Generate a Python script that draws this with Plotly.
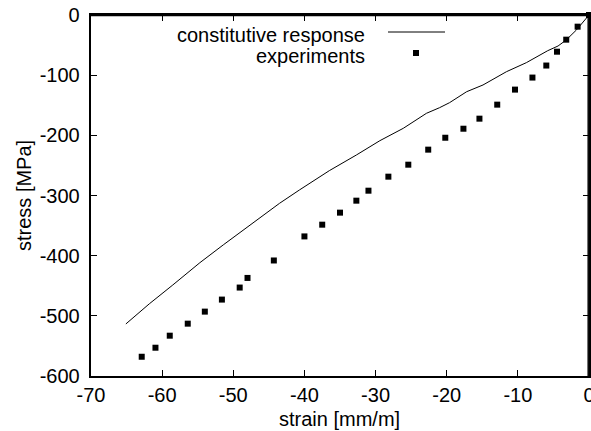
import plotly.graph_objects as go

# constitutive response (model curve)
model_strain = [-65.1, -61.8, -58.5, -54.7, -51.4, -48.4, -45.3, -43.5, -40.7, -36.5,
                -32.7, -29.4, -26.1, -22.85, -21.0, -19.6, -17.2, -14.9, -11.6, -8.8,
                -5.8, -4.35, -3.2, -1.77, 0.0]
model_stress = [-513.5, -480, -448.7, -411.7, -382, -356, -329.6, -313, -290.8, -258.7,
                -232.7, -208.9, -188.3, -163.4, -154, -145.7, -127.5, -116.3, -94.2, -79.2,
                -59.3, -51.5, -41.5, -24.9, 0.0]

# experiments
exp_strain = [-62.87, -60.94, -58.93, -56.4, -54.0, -51.6, -49.1, -48.0, -44.3, -40.0,
              -37.5, -35.0, -32.7, -31.0, -28.2, -25.4, -22.6, -20.2, -17.65, -15.4,
              -12.9, -10.4, -7.95, -6.0, -4.5, -3.2, -1.6, 0.0]
exp_stress = [-568, -553, -533, -513, -493, -473, -453, -437, -408, -368,
              -348.5, -328.5, -308.6, -292, -268.7, -248.8, -223.8, -204, -189, -172.3,
              -149, -124, -104, -84, -61, -41, -19.4, 0.0]

x_ticks = [-70, -60, -50, -40, -30, -20, -10, 0]
y_ticks = [-600, -500, -400, -300, -200, -100, 0]

FONT = "Liberation Sans, Arial, Helvetica, sans-serif"
FS = 20

fig = go.Figure()
fig.add_trace(go.Scatter(x=model_strain, y=model_stress, mode="lines",
                         line=dict(color="black", width=1), name="constitutive response",
                         showlegend=False))
fig.add_trace(go.Scatter(x=exp_strain, y=exp_stress, mode="markers", xaxis="x2", yaxis="y2",
                         marker=dict(symbol="square", size=6, color="black"),
                         name="experiments", showlegend=False, cliponaxis=False))

L, R, T, B = 91, 2, 15, 55
W, H = 591, 431
pw, ph = W - L - R, H - T - B

def px(x):
    return (x - L) / pw

def py(y):
    return (H - B - y) / ph

axis_common = dict(showline=True, linecolor="black", linewidth=1.5,
                   ticks="inside", ticklen=6, tickwidth=1, tickcolor="black",
                   showgrid=False, zeroline=False, automargin=False,
                   tickfont=dict(family=FONT, size=FS, color="black"))
mirror_common = dict(showline=True, linecolor="black", linewidth=2,
                     ticks="inside", ticklen=6, tickwidth=1, tickcolor="black",
                     showgrid=False, zeroline=False, automargin=False,
                     showticklabels=False)

fig.update_layout(
    width=W, height=H,
    margin=dict(l=L, r=R, t=T, b=B),
    plot_bgcolor="white", paper_bgcolor="white",
    xaxis=dict(range=[-70, 0], tickvals=x_ticks, ticktext=[str(v) for v in x_ticks],
               ticklabeloverflow="allow", **axis_common),
    yaxis=dict(range=[-600, 0], tickvals=y_ticks, ticktext=[str(v) + " " for v in y_ticks],
               **axis_common),
    xaxis2=dict(overlaying="x", side="top", matches="x", tickvals=x_ticks, **mirror_common),
    yaxis2=dict(overlaying="y", side="right", matches="y", tickvals=y_ticks, **mirror_common),
    showlegend=False,
    annotations=[
        dict(text="strain [mm/m]", xref="paper", yref="paper", x=px(339), y=py(419),
             showarrow=False, xanchor="center", yanchor="middle",
             font=dict(family=FONT, size=FS, color="black")),
        dict(text="stress [MPa]", xref="paper", yref="paper", x=px(24), y=py(196),
             showarrow=False, xanchor="center", yanchor="middle", textangle=-90,
             font=dict(family=FONT, size=FS, color="black")),
        dict(text="constitutive response", xref="paper", yref="paper", x=px(367), y=py(35),
             showarrow=False, xanchor="right", yanchor="middle",
             font=dict(family=FONT, size=FS, color="black")),
        dict(text="experiments", xref="paper", yref="paper", x=px(367), y=py(56),
             showarrow=False, xanchor="right", yanchor="middle",
             font=dict(family=FONT, size=FS, color="black")),
    ],
    shapes=[
        dict(type="line", xref="paper", yref="paper", x0=0, x1=1, y0=1 - 0.6 / ph, y1=1 - 0.6 / ph,
             line=dict(color="black", width=1.5), layer="above"),
        dict(type="line", xref="paper", yref="paper", x0=1 - 0.8 / pw, x1=1 - 0.8 / pw, y0=0, y1=1,
             line=dict(color="black", width=1.5), layer="above"),
        dict(type="line", xref="paper", yref="paper", x0=px(388), x1=px(445),
             y0=py(32), y1=py(32), line=dict(color="black", width=1)),
        dict(type="rect", xref="paper", yref="paper", x0=px(413), x1=px(419),
             y0=py(50), y1=py(56), line=dict(width=0), fillcolor="black"),
    ],
)

fig.write_html("out.html", config={"displayModeBar": False},
               post_script="document.body.style.margin='0';document.body.style.overflow='hidden';")
